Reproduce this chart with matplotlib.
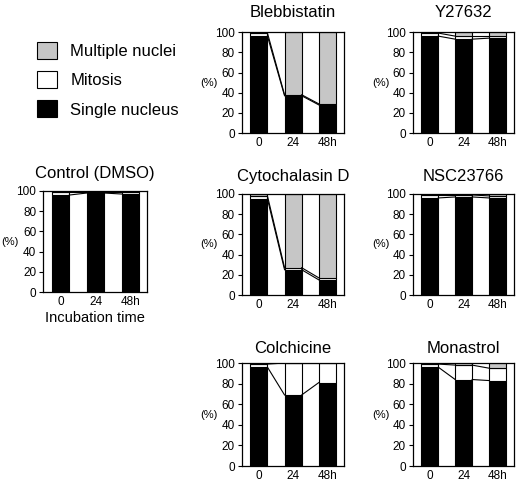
import numpy as np
import matplotlib
matplotlib.use("Agg")
import matplotlib.pyplot as plt
from matplotlib.patches import Patch

plt.rcParams['font.family'] = ['Liberation Sans', 'DejaVu Sans']

# time points
times = ['0', '24', '48h']

# % of cells: single nucleus / mitosis / multiple nuclei
drugs = ['Control (DMSO)', 'Blebbistatin', 'Y27632', 'Cytochalasin D',
         'NSC23766', 'Colchicine', 'Monastrol']
single = {
    'Control (DMSO)': [96, 98, 97],
    'Blebbistatin': [96, 37, 28],
    'Y27632': [96, 93, 94],
    'Cytochalasin D': [95, 25, 15],
    'NSC23766': [96, 97, 96],
    'Colchicine': [96, 69, 81],
    'Monastrol': [96, 84, 83],
}
mitosis = {
    'Control (DMSO)': [3, 1, 2],
    'Blebbistatin': [3, 1, 1],
    'Y27632': [3, 3, 2],
    'Cytochalasin D': [3, 2, 2],
    'NSC23766': [3, 2, 2],
    'Colchicine': [3, 31, 19],
    'Monastrol': [3, 14, 12],
}
multiple = {
    'Control (DMSO)': [1, 1, 1],
    'Blebbistatin': [1, 62, 71],
    'Y27632': [1, 4, 4],
    'Cytochalasin D': [2, 73, 83],
    'NSC23766': [1, 1, 2],
    'Colchicine': [1, 0, 0],
    'Monastrol': [1, 2, 5],
}

GRAY = '#c6c6c6'
W = 0.5

# axes boxes in figure fractions (left, bottom, width, height) and title pad
boxes = {
    'Control (DMSO)': ([0.083, 0.399, 0.200, 0.208], 9),
    'Blebbistatin': ([0.465, 0.726, 0.196, 0.208], 10.5),
    'Y27632': ([0.794, 0.726, 0.194, 0.208], 10.5),
    'Cytochalasin D': ([0.465, 0.393, 0.196, 0.208], 9.5),
    'NSC23766': ([0.794, 0.393, 0.194, 0.208], 9.5),
    'Colchicine': ([0.465, 0.041, 0.196, 0.212], 7),
    'Monastrol': ([0.794, 0.041, 0.194, 0.212], 7),
}

fig = plt.figure(figsize=(5.2, 4.86), dpi=100)

for name in drugs:
    rect, tpad = boxes[name]
    ax = fig.add_axes(rect)
    x = np.arange(len(times))
    s = np.array(single[name])
    m = np.array(mitosis[name])
    mu = np.array(multiple[name])
    ax.bar(x, s, W, color='black', edgecolor='black', lw=0.8)
    ax.bar(x, m, W, bottom=s, color='white', edgecolor='black', lw=0.8)
    ax.bar(x, mu, W, bottom=s + m, color=GRAY, edgecolor='black', lw=0.8)
    # connecting lines between bars
    for lev in (s, s + m):
        for i in range(len(x) - 1):
            ax.plot([x[i] + W / 2, x[i + 1] - W / 2], [lev[i], lev[i + 1]],
                    color='black', lw=0.8)
    ax.set_xlim(-0.5, 2.48)
    ax.set_ylim(0, 100)
    ax.set_yticks(range(0, 101, 20))
    ax.set_xticks(x)
    ax.set_xticklabels(times)
    ax.tick_params(axis='y', length=3, width=0.8, labelsize=8.5, pad=2)
    ax.tick_params(axis='x', length=0, labelsize=8.5, pad=3)
    for sp in ax.spines.values():
        sp.set_linewidth(0.9)
    ax.set_title(name, fontsize=12, pad=tpad)
    ax.text(-0.32, 0.5, '(%)', transform=ax.transAxes, ha='center',
            va='center', fontsize=8)
    if name == 'Control (DMSO)':
        ax.set_xlabel('Incubation time', fontsize=10.5, labelpad=2)

handles = [Patch(facecolor=GRAY, edgecolor='black', lw=0.8),
           Patch(facecolor='white', edgecolor='black', lw=0.8),
           Patch(facecolor='black', edgecolor='black', lw=0.8)]
labels = ['Multiple nuclei', 'Mitosis', 'Single nucleus']
fig.legend(handles, labels, loc='upper left', bbox_to_anchor=(37 / 520, 1 - 42 / 486),
           frameon=False, fontsize=12, handlelength=1.2, handleheight=1.2,
           labelspacing=0.72, handletextpad=0.8, borderpad=0, borderaxespad=0)

fig.savefig('out.png', dpi=100)
